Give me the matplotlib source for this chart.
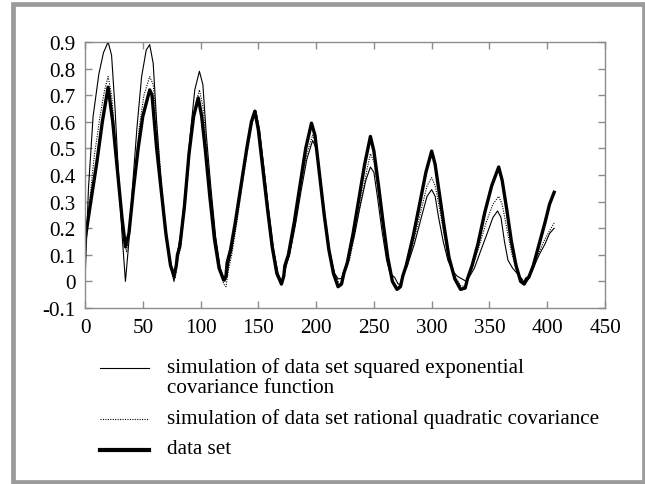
import matplotlib.pyplot as plt
from matplotlib.lines import Line2D
from matplotlib.patches import Rectangle

plt.rcParams['font.family'] = ['Liberation Serif', 'DejaVu Serif']

# -------- Data --------
data_x = [0, 5, 10, 15, 20, 24, 28, 32, 35, 38, 42, 46, 50, 56, 58, 62, 66, 70, 74, 77,
          79, 80, 82, 86, 90, 94, 98, 101, 104, 108, 112, 116, 120, 122, 123, 126, 130,
          135, 140, 144, 147, 150, 154, 158, 162, 166, 170, 172, 173, 176, 181, 186, 191,
          196, 199, 203, 207, 211, 215, 219, 222, 224, 227, 232, 237, 242, 247, 250, 254,
          258, 262, 266, 270, 273, 275, 278, 284, 290, 295, 300, 303, 307, 311, 315, 320,
          325, 329, 331, 335, 340, 346, 352, 358, 361, 365, 369, 373, 377, 380, 382, 384,
          388, 393, 398, 402, 406]
data_y = [0.155, 0.30, 0.44, 0.60, 0.73, 0.60, 0.42, 0.24, 0.13, 0.18, 0.35, 0.50, 0.62,
          0.72, 0.70, 0.50, 0.34, 0.18, 0.06, 0.02, 0.06, 0.10, 0.13, 0.28, 0.48, 0.62,
          0.69, 0.62, 0.50, 0.32, 0.16, 0.05, 0.005, 0.02, 0.07, 0.12, 0.22, 0.36, 0.50,
          0.60, 0.64, 0.57, 0.42, 0.27, 0.13, 0.03, -0.01, 0.02, 0.06, 0.10, 0.22, 0.36,
          0.50, 0.595, 0.55, 0.40, 0.25, 0.12, 0.03, -0.02, -0.01, 0.03, 0.07, 0.18, 0.31,
          0.44, 0.545, 0.49, 0.36, 0.22, 0.09, 0.0, -0.03, -0.02, 0.02, 0.06, 0.17, 0.30,
          0.41, 0.49, 0.44, 0.32, 0.20, 0.09, 0.01, -0.03, -0.025, 0.01, 0.06, 0.14, 0.26,
          0.36, 0.43, 0.38, 0.27, 0.15, 0.06, 0.0, -0.01, 0.01, 0.015, 0.06, 0.14, 0.22,
          0.29, 0.335]

se_x = [0, 3, 7, 12, 16, 20, 23, 26, 29, 32, 35, 38, 41, 45, 49, 53, 56, 59, 62, 66, 70,
        74, 77, 79, 80, 83, 87, 91, 95, 99, 102, 105, 109, 113, 117, 121, 123, 124, 127,
        131, 136, 141, 145, 148, 151, 155, 159, 163, 167, 170, 172, 174, 177, 182, 187,
        192, 197, 200, 204, 208, 212, 216, 219, 222, 224, 228, 233, 238, 243, 247, 250,
        253, 257, 261, 264, 268, 271, 273, 275, 279, 285, 291, 296, 300, 303, 306, 310,
        314, 318, 322, 326, 330, 333, 337, 342, 348, 353, 357, 360, 363, 366, 370, 374,
        378, 381, 384, 388, 393, 398, 402, 406]
se_y = [0.0, 0.35, 0.62, 0.78, 0.86, 0.90, 0.85, 0.65, 0.40, 0.18, 0.0, 0.15, 0.35, 0.58,
        0.77, 0.87, 0.89, 0.82, 0.60, 0.36, 0.18, 0.06, 0.0, 0.05, 0.11, 0.18, 0.35, 0.55,
        0.72, 0.79, 0.74, 0.55, 0.35, 0.17, 0.05, 0.0, 0.02, 0.06, 0.12, 0.23, 0.38, 0.52,
        0.61, 0.635, 0.57, 0.42, 0.26, 0.12, 0.03, 0.0, 0.02, 0.06, 0.10, 0.21, 0.34, 0.46,
        0.53, 0.50, 0.36, 0.22, 0.10, 0.03, 0.01, 0.01, 0.04, 0.08, 0.17, 0.28, 0.38, 0.43,
        0.41, 0.32, 0.19, 0.08, 0.03, 0.015, -0.01, -0.01, 0.02, 0.06, 0.14, 0.24, 0.32,
        0.345, 0.32, 0.24, 0.15, 0.08, 0.04, 0.02, 0.01, 0.0, 0.02, 0.05, 0.11, 0.18, 0.24,
        0.265, 0.24, 0.15, 0.08, 0.05, 0.03, 0.01, -0.01, 0.01, 0.05, 0.10, 0.14, 0.18, 0.20]

rq_x = [0, 4, 8, 13, 17, 20, 23, 27, 31, 34, 36, 39, 43, 47, 51, 56, 59, 63, 67, 71, 75,
        78, 80, 83, 87, 91, 95, 99, 102, 105, 109, 113, 117, 120, 122, 124, 127, 131, 136,
        141, 145, 148, 151, 155, 159, 163, 167, 170, 173, 177, 182, 187, 192, 197, 200,
        204, 208, 212, 216, 220, 223, 225, 229, 234, 239, 244, 247, 250, 254, 258, 262,
        266, 270, 273, 275, 279, 285, 291, 296, 300, 303, 307, 311, 315, 320, 325, 329,
        331, 335, 341, 347, 353, 358, 361, 365, 369, 373, 377, 380, 383, 387, 392, 397,
        402, 406]
rq_y = [0.15, 0.30, 0.47, 0.62, 0.72, 0.77, 0.70, 0.50, 0.28, 0.15, 0.11, 0.20, 0.40, 0.58,
        0.70, 0.77, 0.74, 0.54, 0.33, 0.16, 0.05, 0.01, 0.07, 0.14, 0.30, 0.50, 0.65, 0.72,
        0.66, 0.52, 0.33, 0.16, 0.04, -0.01, -0.02, 0.04, 0.10, 0.21, 0.36, 0.50, 0.60,
        0.64, 0.57, 0.42, 0.27, 0.13, 0.03, -0.005, 0.04, 0.10, 0.22, 0.36, 0.48, 0.55,
        0.52, 0.38, 0.24, 0.11, 0.03, -0.01, 0.0, 0.04, 0.08, 0.19, 0.31, 0.42, 0.48, 0.45,
        0.33, 0.20, 0.08, 0.0, -0.02, -0.015, 0.02, 0.06, 0.16, 0.27, 0.36, 0.39, 0.36,
        0.27, 0.17, 0.08, 0.02, -0.015, -0.02, 0.01, 0.05, 0.13, 0.22, 0.29, 0.32, 0.29,
        0.20, 0.11, 0.05, 0.01, -0.01, 0.01, 0.05, 0.10, 0.15, 0.19, 0.22]

x_ticks = [0, 50, 100, 150, 200, 250, 300, 350, 400, 450]
y_ticks = [-0.1, 0, 0.1, 0.2, 0.3, 0.4, 0.5, 0.6, 0.7, 0.8, 0.9]
y_tick_labels = ["-0.1", "0", "0.1", "0.2", "0.3", "0.4", "0.5", "0.6", "0.7", "0.8", "0.9"]

labels = ["simulation of data set squared exponential\ncovariance function",
          "simulation of data set rational quadratic covariance",
          "data set"]

FS = 15.2
GRAY = "#8c8c8c"

# ======================================================
# Figure
# ======================================================
W, H = 645, 485
fig = plt.figure(figsize=(W / 100, H / 100), dpi=100)

# outer grey frame
fig.add_artist(Rectangle((12.5 / W, 1 - 483 / H), (643.5 - 12.5) / W, (483 - 5) / H,
                         transform=fig.transFigure, fill=False,
                         edgecolor="#9b9b9b", linewidth=3.4))

ax = fig.add_axes([85 / W, 1 - 309 / H, 520 / W, 266 / H])

ax.plot(se_x, se_y, color="black", linewidth=0.8)
ax.plot(rq_x, rq_y, color="black", linewidth=0.8, linestyle=(0, (1, 1.2)))
ax.plot(data_x, data_y, color="black", linewidth=2.4)

ax.set_xlim(0, 450)
ax.set_ylim(-0.1, 0.9)
ax.set_xticks(x_ticks)
ax.set_yticks(y_ticks)
ax.set_yticklabels(y_tick_labels)

for s in ax.spines.values():
    s.set_color(GRAY)
    s.set_linewidth(1.0)
ax.tick_params(direction="in", length=5, width=1.0, color=GRAY,
               top=True, right=True, labelsize=FS, labelcolor="black")
ax.tick_params(axis="x", pad=7)
ax.tick_params(axis="y", pad=7)

# ------------------------------
# Legend drawn below the axes
# ------------------------------
styles = [dict(linewidth=0.8, linestyle="-"),
          dict(linewidth=0.8, linestyle=(0, (1, 1.2))),
          dict(linewidth=3.0, linestyle="-")]
rows_y = [369, 420, 451]
for lab, st, yy in zip(labels, styles, rows_y):
    fig.add_artist(Line2D([100 / W, 149 / W], [1 - yy / H, 1 - yy / H],
                          transform=fig.transFigure, color="black", **st))
    fig.text(167 / W, 1 - (yy - 11) / H, lab, fontsize=FS, ha="left", va="top",
             linespacing=1.1)

plt.savefig("out.png", dpi=100)
